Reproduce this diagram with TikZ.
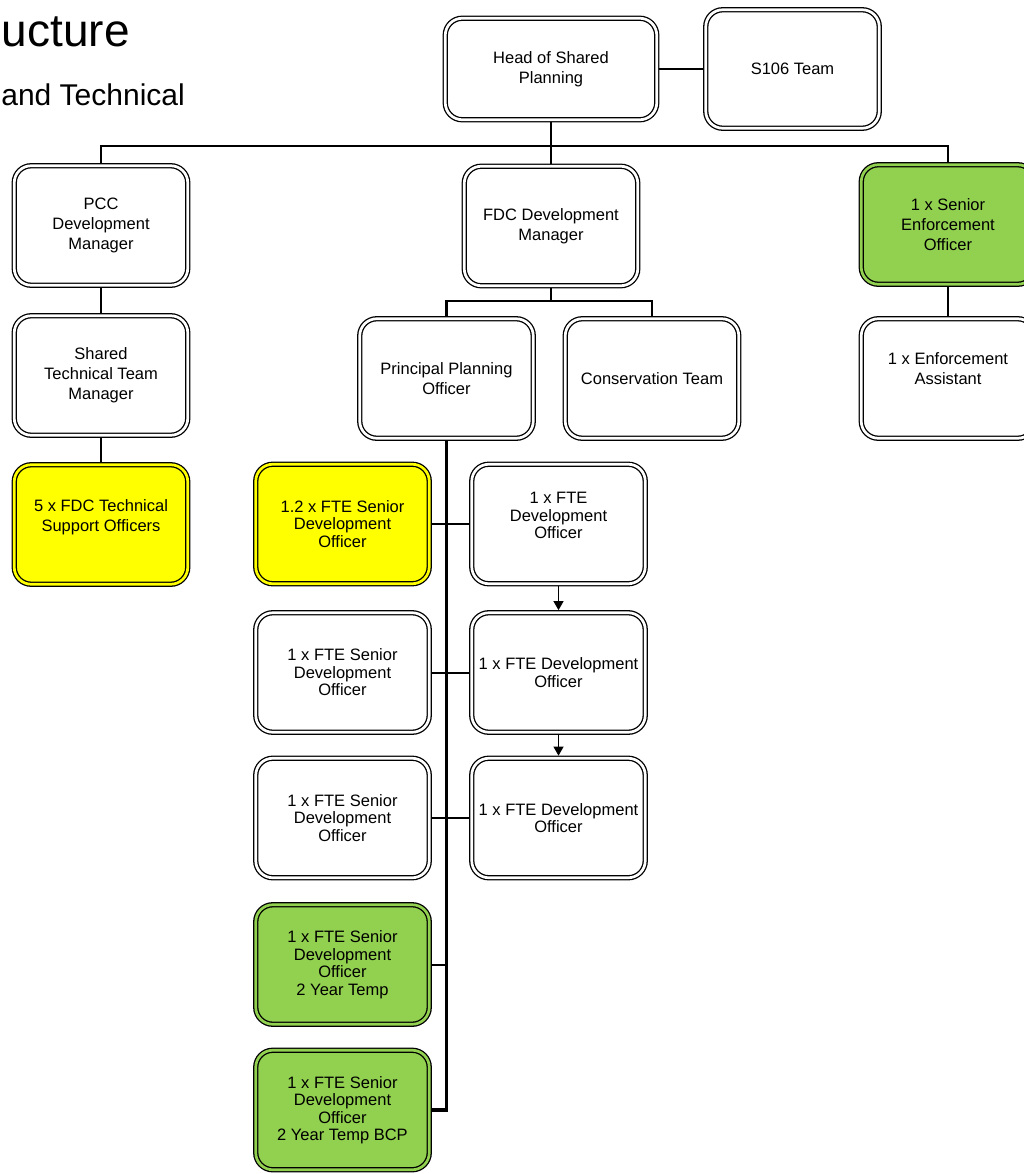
\documentclass[tikz,border=0pt]{standalone}
\usepackage{fontspec}
\setmainfont{Liberation Sans}
\usepackage{tikz}
\usetikzlibrary{arrows.meta}
\definecolor{tgreen}{RGB}{146,208,80}
\definecolor{tyellow}{RGB}{255,255,0}
\tikzset{
	box/.style={draw, rounded corners=17pt, line width=1.3pt, double=white, double distance=2.7pt,
		fill=white, minimum width=173.5pt, minimum height=119.5pt, align=center, outer sep=2.6pt,
		font=\fontsize{16.5pt}{20pt}\selectfont},
	lowbox/.style={box, font=\fontsize{16.5pt}{17.5pt}\selectfont},
	greenbox/.style={fill=tgreen, double=tgreen},
	yellowbox/.style={fill=tyellow, double=tyellow},
	link/.style={line width=2.6pt},
	branch/.style={line width=2pt},
	trunk/.style={line width=3.6pt},
	flow/.style={line width=1pt, -{Triangle[length=9pt,width=10pt]}}
}
\begin{document}
\begin{tikzpicture}[x=1pt,y=-1pt]
\useasboundingbox (0,0) rectangle (1023,1174);
\fill[white] (0,0) rectangle (1023,1174);

\node[anchor=base east, inner sep=0pt, font=\fontsize{46pt}{49pt}\selectfont] (title) at (130,47) {ucture};
\node[anchor=base east, inner sep=0pt, font=\fontsize{30pt}{33pt}\selectfont] (subtitle) at (185,106) {and Technical};

\node[box, minimum width=211.5pt, minimum height=101.5pt] (head) at (551,69) {Head of Shared\\Planning};
\node[box, minimum height=118.5pt] (s106) at (792.5,69) {S106 Team};

\node[box] (pcc) at (101,225.5) {PCC\\Development\\Manager};
\node[box] (fdc) at (551,226) {FDC Development\\Manager};
\node[box, greenbox] (seo) at (948,224.5) {1 x Senior\\Enforcement\\Officer};

\node[box] (stm) at (101,375.5) {Shared\\Technical Team\\Manager};
\node[box] (ppo) at (446.5,378.5) {Principal Planning\\Officer};
\node[box] (cons) at (652,378.5) {Conservation Team};
\node[box] (ea) at (948,378.5) {1 x Enforcement\\Assistant\\\mbox{}};

\node[box, yellowbox] (tso) at (101,524.5) {5 x FDC Technical\\Support Officers\\[-2pt]\mbox{}};

\node[lowbox, yellowbox] (sdo1) at (342.5,524) {1.2 x FTE Senior\\Development\\Officer};
\node[lowbox] (fdo1) at (558.5,524) {1 x FTE\\Development\\Officer\\[-1pt]\mbox{}};
\node[lowbox] (sdo2) at (342.5,672.5) {1 x FTE Senior\\Development\\Officer};
\node[lowbox] (fdo2) at (558.5,672.5) {1 x FTE Development\\Officer};
\node[lowbox] (sdo3) at (342.5,818) {1 x FTE Senior\\Development\\Officer};
\node[lowbox] (fdo3) at (558.5,818) {1 x FTE Development\\Officer};
\node[lowbox, greenbox] (temp) at (342.5,964.5) {1 x FTE Senior\\Development\\Officer\\2 Year Temp};
\node[lowbox, greenbox] (bcp) at (342.5,1110) {1 x FTE Senior\\Development\\Officer\\2 Year Temp BCP};

\coordinate (bar) at (551,146);
\coordinate (fdcbar) at (551,301);
\draw[link] (head.east) -- (s106.west);
\draw[link] (head.south) -- (fdc.north);
\draw[link] (pcc.north) |- (bar) -| (seo.north);
\draw[link] (pcc.south) -- (stm.north);
\draw[link] (stm.south) -- (tso.north);
\draw[link] (seo.south) -- (ea.north);
\draw[link] (fdc.south) -- (fdcbar);
\draw[link] (ppo.north) |- (fdcbar) -| (cons.north);
\foreach \r in {1,2,3}
	\draw[branch] (sdo\r.east) -- (fdo\r.west);
\draw[branch] (temp.east) -- (temp.east -| ppo.south);
\draw[trunk] (ppo.south) |- (bcp.east);
\foreach \a/\b in {1/2,2/3}
	\draw[flow] (fdo\a.south) -- (fdo\b.north);
\end{tikzpicture}
\end{document}
